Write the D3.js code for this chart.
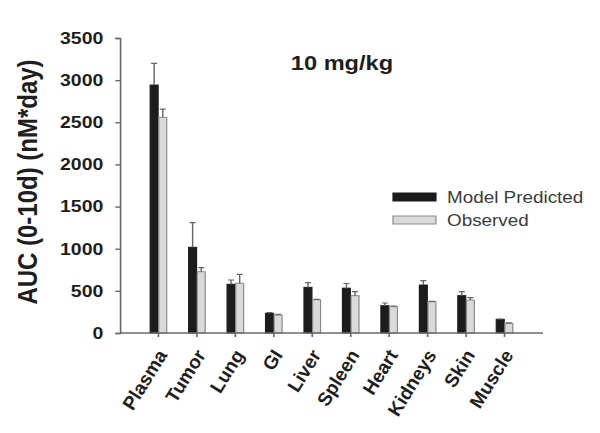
<!DOCTYPE html>
<html lang="en">
  <head>
    <meta charset="UTF-8" />
    <title>AUC by tissue, 10 mg/kg</title>
    <script src="https://d3js.org/d3.v7.min.js"></script>
    <style>
      body { margin: 0; background: #fff; }
      text { font-family: "Liberation Sans", Arial, sans-serif; fill: #1e1e1e; }
      .tick text { font-weight: bold; }
      .legend_text { font-size: 16px; fill: #3c3c3c; }
    </style>
  </head>
  <body>
    <svg width="600" height="433"></svg>
    <script>
      // data
      const tissues = ["Plasma", "Tumor", "Lung", "GI", "Liver", "Spleen", "Heart", "Kidneys", "Skin", "Muscle"];
      const series = ["Model Predicted", "Observed"];
      const predicted = [2942, 1017, 578, 233, 542, 532, 324, 569, 443, 162];
      const predictedErr = [258, 292, 51, 10, 55, 55, 32, 52, 47, 4];
      const observed = [2559, 727, 590, 213, 395, 443, 312, 371, 391, 115];
      const observedErr = [98, 48, 106, 7, 5, 47, 6, 4, 28, 5];
      const yTicks = [0, 500, 1000, 1500, 2000, 2500, 3000, 3500];

      // the original picture is stretched sideways, so draw in a narrower
      // viewBox and let the svg widen it
      const stretch = 1.18;
      const W = 600 / stretch, H = 433;
      const svg = d3.select("svg")
        .attr("viewBox", `0 0 ${W} ${H}`)
        .attr("preserveAspectRatio", "none");

      const plotLeft = 120 / stretch, plotRight = 543 / stretch;
      const plotTop = 38, plotBottom = 333;

      const x = d3.scaleBand().domain(tissues).range([plotLeft, plotRight]).paddingOuter(0.5).paddingInner(0);
      const barW = 7.8 / stretch;
      const x1 = d3.scaleBand().domain(series).range([-barW - 0.4, barW + 0.4]).paddingInner(0.08);
      const y = d3.scaleLinear().domain([0, 3500]).range([plotBottom, plotTop]);
      const color = d3.scaleOrdinal().domain(series).range(["#1c1c1c", "#dadada"]);

      const rows = tissues.map((t, i) => ({
        tissue: t,
        vals: [
          { s: series[0], v: predicted[i], e: predictedErr[i] },
          { s: series[1], v: observed[i], e: observedErr[i] }
        ]
      }));

      // bars
      const g = svg.append("g")
        .selectAll("g")
        .data(rows)
        .join("g")
        .attr("transform", d => `translate(${x(d.tissue) + x.bandwidth() / 2},0)`);

      g.selectAll("rect")
        .data(d => d.vals)
        .join("rect")
        .attr("x", d => x1(d.s))
        .attr("width", x1.bandwidth())
        .attr("y", d => y(d.v))
        .attr("height", d => y(0) - y(d.v))
        .attr("fill", d => color(d.s))
        .attr("stroke", d => d.s === series[0] ? "#1c1c1c" : "#8a8a8a")
        .attr("stroke-width", 1);

      // error bars
      const capW = 6 / stretch;
      g.selectAll("path.err")
        .data(d => d.vals)
        .join("path")
        .attr("class", "err")
        .attr("d", d => {
          const cx = x1(d.s) + x1.bandwidth() / 2;
          return `M${cx},${y(d.v)}V${y(d.v + d.e)}M${cx - capW / 2},${y(d.v + d.e)}H${cx + capW / 2}`;
        })
        .attr("stroke", "#666")
        .attr("stroke-width", 1.2)
        .attr("fill", "none");

      // axes
      const yAxis = svg.append("g")
        .attr("transform", `translate(${plotLeft},0)`)
        .call(d3.axisLeft(y).tickValues(yTicks).tickFormat(d3.format("d")).tickSize(4).tickPadding(12 / stretch));
      yAxis.selectAll("text").style("font-size", "16.5px");

      const xAxis = svg.append("g")
        .attr("transform", `translate(0,${plotBottom})`)
        .call(d3.axisBottom(x).tickSize(4).tickSizeOuter(0));
      // undo the sideways stretch for the slanted labels so they are not sheared
      xAxis.selectAll("text")
        .style("font-size", "19px")
        .attr("text-anchor", "end")
        .attr("transform", `translate(8,22) scale(${1 / stretch},1) rotate(-58)`)
        .attr("x", 0)
        .attr("y", 0)
        .attr("dy", 0);
      xAxis.select(".domain").attr("d", `M${plotLeft},0H${plotRight}`);

      svg.selectAll(".domain, .tick line")
        .attr("stroke", "#6a6a6a")
        .attr("stroke-width", 1.4);

      // y label
      svg.append("text")
        .attr("transform", `translate(${37 / stretch},182) rotate(-90)`)
        .attr("text-anchor", "middle")
        .style("font-size", "24px")
        .style("font-weight", "bold")
        .text("AUC (0-10d) (nM*day)");

      // title
      svg.append("text")
        .attr("x", 342 / stretch)
        .attr("y", 70)
        .attr("text-anchor", "middle")
        .style("font-size", "20px")
        .style("font-weight", "bold")
        .text("10 mg/kg");

      // legend
      const legend = svg.append("g")
        .selectAll("g")
        .data(series)
        .join("g")
        .attr("transform", (d, i) => `translate(${393 / stretch},${193 + i * 23})`);
      legend.append("rect")
        .attr("width", 43 / stretch)
        .attr("height", 8)
        .attr("fill", d => color(d))
        .attr("stroke", d => d === series[0] ? "#1c1c1c" : "#8a8a8a");
      legend.append("text")
        .attr("class", "legend_text")
        .attr("x", 54 / stretch)
        .attr("y", 10)
        .text(d => d);
    </script>
  </body>
</html>
